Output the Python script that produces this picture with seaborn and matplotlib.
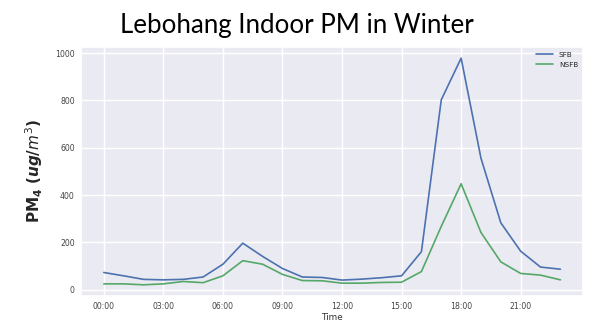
import matplotlib
matplotlib.use("Agg")
import matplotlib.pyplot as plt
import seaborn as sns
import pandas as pd

hours = list(range(24))
tick_hours = [0, 3, 6, 9, 12, 15, 18, 21]
tick_labels = ["00:00", "03:00", "06:00", "09:00", "12:00", "15:00", "18:00", "21:00"]
sfb = [73, 59, 44, 42, 44, 54, 108, 197, 141, 90, 54, 52, 41, 45, 51, 59,
       161, 803, 979, 556, 283, 163, 96, 87]
nsfb = [25, 25, 21, 25, 35, 30, 59, 123, 108, 65, 39, 38, 28, 28, 31, 32,
        77, 268, 448, 242, 118, 69, 62, 42]

df = pd.DataFrame({
    "hour": hours * 2,
    "value": sfb + nsfb,
    "series": ["SFB"] * 24 + ["NSFB"] * 24,
})

sns.set_theme(style="darkgrid")
plt.rcParams["font.family"] = ["DejaVu Sans"]

fig = plt.figure(figsize=(6, 3.32), dpi=100)
ax = fig.add_axes([0.135, 0.108, 0.837, 0.751])
sns.lineplot(data=df, x="hour", y="value", hue="series",
             palette=["#4C72B0", "#55A868"], linewidth=1.2, ax=ax)
ax.set_xticks(tick_hours)
ax.set_xticklabels(tick_labels)
ax.set_yticks([0, 200, 400, 600, 800, 1000])
ax.tick_params(labelsize=5.6, colors="#444444", length=0, pad=4.5)
ax.set_xlabel("Time", fontsize=6.4, color="#333333", labelpad=1)
ax.set_ylabel(r"$\mathbf{PM_4}$ $\mathbf{(}\boldsymbol{ug/m^3}\mathbf{)}$", fontsize=11,
              labelpad=7)
leg = ax.legend(loc="upper right", frameon=False, fontsize=5.2, handlelength=2.4,
                borderaxespad=0.3)
fig.text(0.495, 0.922, "Lebohang Indoor PM in Winter", ha="center", va="center",
         fontsize=18.6, color="black", family=["Lato", "DejaVu Sans"])
fig.savefig("out.png", dpi=100)
